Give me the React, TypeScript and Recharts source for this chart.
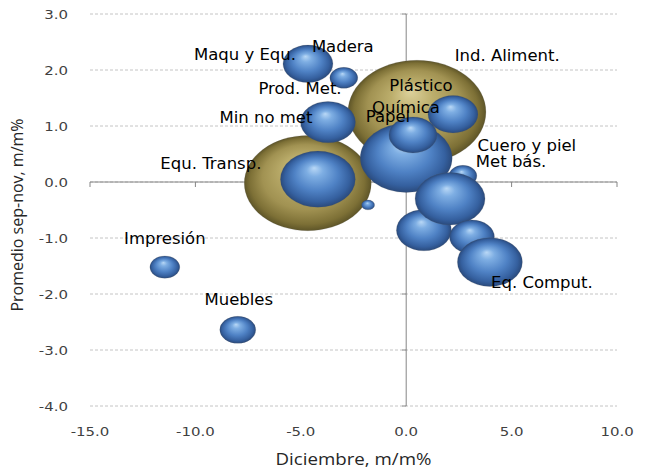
import React from 'react';
import { ScatterChart, Scatter, XAxis, YAxis, ZAxis, CartesianGrid, ReferenceLine, Label } from 'recharts';

// sectores (burbujas azules), en orden de dibujo
const sectores = ['Ind. Aliment.', 'Papel', 'Química', 'Maqu y Equ.', 'Madera', 'Min no met', 'Equ. Transp.', 'Prod. Met.', 'Cuero y piel', '', 'Met bás.', '', 'Eq. Comput.', 'Impresión', 'Muebles'];
const diciembre = [0.0, 0.32, 2.22, -4.66, -2.96, -3.71, -4.19, -1.81, 2.69, 0.84, 2.08, 3.12, 3.97, -11.45, -7.99];
const promedio = [0.43, 0.84, 1.21, 2.11, 1.86, 1.07, 0.05, -0.41, 0.11, -0.86, -0.3, -0.98, -1.43, -1.52, -2.64];
const peso = [44.4, 12.1, 13.1, 13.1, 4.1, 15.9, 29.5, 0.9, 4.1, 15.9, 25.7, 10.6, 22.2, 4.7, 6.8];

// burbujas doradas
const sectoresOro = ['Plástico', ''];
const diciembreOro = [0.51, -4.67];
const promedioOro = [1.25, -0.02];
const pesoOro = [100, 84.7];

const xTicks = [-15, -10, -5, 0, 5, 10];
const yTicks = [-4, -3, -2, -1, 0, 1, 2, 3];

const azul = sectores.map((name, i) => ({ name, x: diciembre[i], y: promedio[i], z: peso[i] }));
const oro = sectoresOro.map((name, i) => ({ name, x: diciembreOro[i], y: promedioOro[i], z: pesoOro[i] }));
const etiquetas = [...oro, ...azul];

// desplazamiento de cada etiqueta respecto al centro de su burbuja (px)
const labelOffset: Record<string, [number, number]> = {
  'Ind. Aliment.': [101, -102],
  'Papel': [-25, -18],
  'Química': [-47, -6],
  'Maqu y Equ.': [-63, -9],
  'Madera': [-1, -31],
  'Min no met': [-62, -4],
  'Equ. Transp.': [-107, -15],
  'Prod. Met.': [-68, -116],
  'Cuero y piel': [64, -30],
  'Met bás.': [61, -37],
  'Eq. Comput.': [52, 21],
  'Impresión': [0, -28],
  'Muebles': [1, -30],
  'Plástico': [4, -26],
};

const makeBubble = (fillId: string) => (props: any) => {
  const { cx, cy, width } = props;
  if (cx == null || cy == null) return <g />;
  const rx = width / 2;
  const ry = rx * 0.75;
  return <ellipse cx={cx} cy={cy} rx={rx} ry={ry} fill={`url(#${fillId})`} stroke="rgba(90,90,90,0.18)" strokeWidth={1} />;
};

const LabelShape = (props: any) => {
  const { cx, cy, payload } = props;
  const off = labelOffset[payload?.name];
  if (!off || cx == null) return <g />;
  return (
    <g transform={`translate(${cx + off[0]},${cy + off[1]}) scale(1.1,1)`}>
      <text x={0} y={0} textAnchor="middle" dominantBaseline="central" fontFamily="DejaVu Sans" fontSize={15} fill="#000">
        {payload.name}
      </text>
    </g>
  );
};

const XTick = (props: any) => {
  const { x, y, payload } = props;
  return (
    <g transform={`translate(${x},${y + 23}) scale(1.15,1)`}>
      <text x={0} y={0} textAnchor="middle" dominantBaseline="central" fontFamily="DejaVu Sans" fontSize={13} fill="#404040">
        {payload.value.toFixed(1)}
      </text>
    </g>
  );
};

const YTick = (props: any) => {
  const { x, y, payload } = props;
  return (
    <g transform={`translate(${x - 20},${y}) scale(1.15,1)`}>
      <text x={0} y={0} textAnchor="end" dominantBaseline="central" fontFamily="DejaVu Sans" fontSize={13} fill="#404040">
        {payload.value.toFixed(1)}
      </text>
    </g>
  );
};

const HAxis = (props: any) => {
  const { x1, y1, x2 } = props;
  const n = xTicks.length - 1;
  return (
    <g stroke="#868686" strokeWidth={1}>
      <line x1={x1} y1={y1} x2={x2} y2={y1} />
      {xTicks.map((t, i) => {
        const tx = x1 + (i * (x2 - x1)) / n;
        return <line key={t} x1={tx} y1={y1} x2={tx} y2={y1 + 5} />;
      })}
    </g>
  );
};

const VAxis = (props: any) => {
  const { x1, y1, y2 } = props;
  const n = yTicks.length - 1;
  return (
    <g stroke="#868686" strokeWidth={1}>
      <line x1={x1} y1={y1} x2={x1} y2={y2} />
      {yTicks.map((t, i) => {
        const ty = y1 + (i * (y2 - y1)) / n;
        return <line key={t} x1={x1 - 4} y1={ty} x2={x1} y2={ty} />;
      })}
    </g>
  );
};

export default function App() {
  return (
    <div style={{ position: 'absolute', left: 0, top: 0, background: '#fff' }}>
      <ScatterChart width={654} height={472} margin={{ top: 14, right: 37, bottom: 6, left: 10 }}>
        <defs>
          <radialGradient id="gradAzul" cx="0.5" cy="0.5" r="0.5" fx="0.45" fy="0.3">
            <stop offset="0%" stopColor="#b9d8f6" />
            <stop offset="22%" stopColor="#7eaee3" />
            <stop offset="58%" stopColor="#4f82c5" />
            <stop offset="86%" stopColor="#35609f" />
            <stop offset="100%" stopColor="#2a4a7c" />
          </radialGradient>
          <radialGradient id="gradOro" cx="0.5" cy="0.5" r="0.5" fx="0.45" fy="0.3">
            <stop offset="0%" stopColor="#ddd29c" />
            <stop offset="30%" stopColor="#bcae6c" />
            <stop offset="68%" stopColor="#a19252" />
            <stop offset="90%" stopColor="#7d7036" />
            <stop offset="100%" stopColor="#5e5528" />
          </radialGradient>
        </defs>
        <CartesianGrid vertical={false} stroke="#c4c4c4" strokeDasharray="3 2" />
        <XAxis
          type="number"
          dataKey="x"
          domain={[-15, 10]}
          ticks={xTicks}
          axisLine={false}
          tickLine={false}
          tickSize={0}
          height={60}
          tick={<XTick />}
        >
          <Label
            content={({ viewBox }: any) => (
              <g transform={`translate(${viewBox.x + viewBox.width / 2},${viewBox.y + 52}) scale(1.1,1)`}>
                <text x={0} y={0} textAnchor="middle" dominantBaseline="central" fontFamily="Open Sans" fontSize={17} fill="#262626">
                  Diciembre, m/m%
                </text>
              </g>
            )}
          />
        </XAxis>
        <YAxis
          type="number"
          dataKey="y"
          domain={[-4, 3]}
          ticks={yTicks}
          axisLine={false}
          tickLine={false}
          tickSize={0}
          width={80}
          tick={<YTick />}
        >
          <Label
            content={({ viewBox }: any) => (
              <text
                x={0}
                y={0}
                transform={`translate(${viewBox.x + 7},${viewBox.y + viewBox.height / 2 + 5}) rotate(-90)`}
                textAnchor="middle"
                dominantBaseline="central"
                fontFamily="Open Sans"
                fontSize={16}
                fill="#262626"
              >
                Promedio sep-nov, m/m%
              </text>
            )}
          />
        </YAxis>
        <ZAxis type="number" dataKey="z" domain={[0, 100]} range={[0, 14957]} />
        <ReferenceLine y={0} shape={HAxis} />
        <ReferenceLine x={0} shape={VAxis} />
        <Scatter data={oro} shape={makeBubble('gradOro')} isAnimationActive={false} />
        <Scatter data={azul} shape={makeBubble('gradAzul')} isAnimationActive={false} />
        <Scatter data={etiquetas} shape={LabelShape} isAnimationActive={false} />
      </ScatterChart>
    </div>
  );
}
